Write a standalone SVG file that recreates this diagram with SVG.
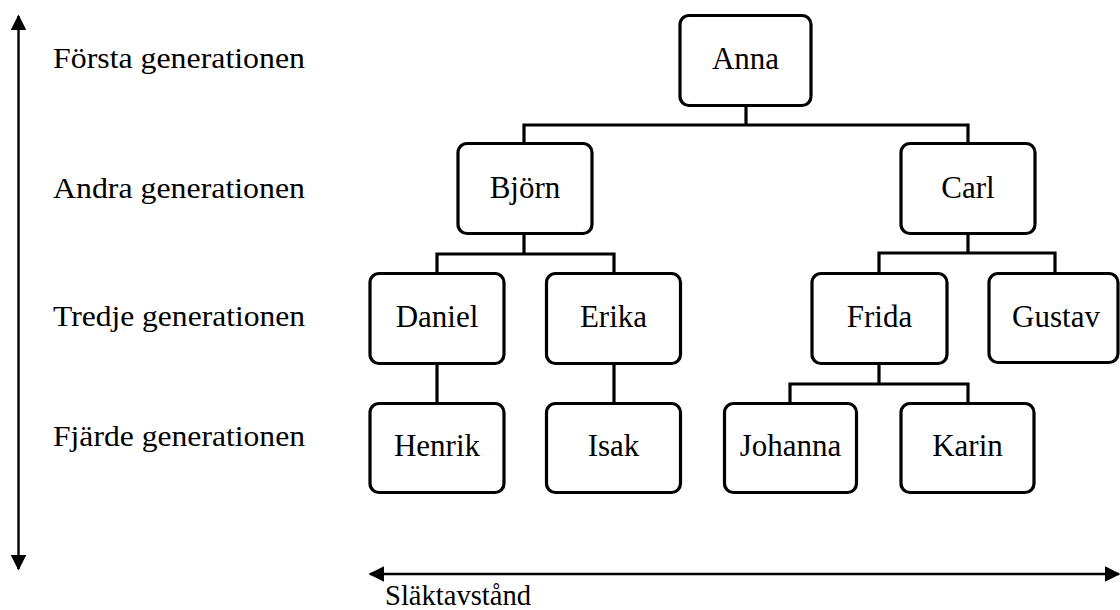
<svg xmlns="http://www.w3.org/2000/svg" width="1120" height="610" viewBox="0 0 1120 610">
<defs>
<style>
.box{fill:#fff;stroke:#000;stroke-width:3.2}
.nt{font-family:"Liberation Serif","Times New Roman",serif;font-size:31px;fill:#000;text-anchor:middle}
.lb{font-family:"Liberation Serif","Times New Roman",serif;font-size:30px;fill:#000}
.con{fill:none;stroke:#000;stroke-width:3.2}
.ax{fill:none;stroke:#000;stroke-width:2.4}
</style>
<marker id="ah" viewBox="0 0 10 10" refX="9" refY="5" markerWidth="6.5" markerHeight="6.5" markerUnits="strokeWidth" orient="auto-start-reverse">
<path d="M0,0 L10,5 L0,10 z" fill="#000"/>
</marker>
</defs>
<rect width="1120" height="610" fill="#fff"/>
<g id="connectors">
<path class="con" d="M746,106 V125 M524,143 V125 H968 V143"/>
<path class="con" d="M524,234 V254 M437,273 V254 H614 V273"/>
<path class="con" d="M968,234 V253 M879,273 V253 H1055 V273"/>
<path class="con" d="M437,364 V403"/>
<path class="con" d="M614,364 V403"/>
<path class="con" d="M879,363 V384 M790,403 V384 H968 V403"/>
</g>
<g id="axis-generation">
<line class="ax" x1="18.5" y1="16" x2="18.5" y2="569" marker-start="url(#ah)" marker-end="url(#ah)"/>
</g>
<g id="axis-distance">
<line class="ax" x1="370" y1="574" x2="1119" y2="574" marker-start="url(#ah)" marker-end="url(#ah)"/>
<text class="lb" x="385" y="605" style="font-size:29px" textLength="146" lengthAdjust="spacingAndGlyphs">Släktavstånd</text>
</g>
<g id="labels">
<text class="lb" x="53" y="68" textLength="252" lengthAdjust="spacingAndGlyphs">Första generationen</text>
<text class="lb" x="53" y="198" textLength="252" lengthAdjust="spacingAndGlyphs">Andra generationen</text>
<text class="lb" x="53" y="326" textLength="252" lengthAdjust="spacingAndGlyphs">Tredje generationen</text>
<text class="lb" x="53" y="446" textLength="252" lengthAdjust="spacingAndGlyphs">Fjärde generationen</text>
</g>
<g id="anna"><rect class="box" x="680" y="15.5" width="131" height="90" rx="9"/><text class="nt" x="745.5" y="69">Anna</text></g>
<g id="bjorn"><rect class="box" x="458" y="143.5" width="134" height="90" rx="9"/><text class="nt" x="525" y="198">Björn</text></g>
<g id="carl"><rect class="box" x="901" y="143.5" width="134" height="90" rx="9"/><text class="nt" x="968" y="198">Carl</text></g>
<g id="daniel"><rect class="box" x="370" y="273.5" width="134" height="90" rx="9"/><text class="nt" x="437" y="327">Daniel</text></g>
<g id="erika"><rect class="box" x="546.5" y="273.5" width="134" height="90" rx="9"/><text class="nt" x="613.5" y="327">Erika</text></g>
<g id="frida"><rect class="box" x="812" y="273.5" width="135" height="90" rx="9"/><text class="nt" x="879.5" y="327">Frida</text></g>
<g id="gustav"><rect class="box" x="989" y="273.5" width="129" height="89" rx="9"/><text class="nt" x="1056" y="327">Gustav</text></g>
<g id="henrik"><rect class="box" x="370" y="403.5" width="134" height="89" rx="9"/><text class="nt" x="437" y="456">Henrik</text></g>
<g id="isak"><rect class="box" x="546.5" y="403.5" width="134" height="89" rx="9"/><text class="nt" x="613.5" y="456">Isak</text></g>
<g id="johanna"><rect class="box" x="724.5" y="403.5" width="132" height="89" rx="9"/><text class="nt" x="790.5" y="456">Johanna</text></g>
<g id="karin"><rect class="box" x="901" y="403.5" width="133" height="89" rx="9"/><text class="nt" x="967.5" y="456">Karin</text></g>
</svg>
